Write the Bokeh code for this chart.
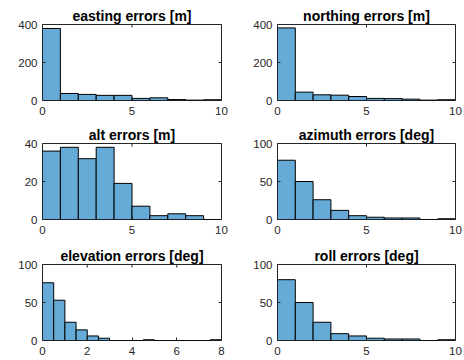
from bokeh.plotting import figure
from bokeh.layouts import gridplot
from bokeh.models import Range1d, FixedTicker, ColumnDataSource
from bokeh.embed import file_html
from bokeh.resources import INLINE
import math

# ---- data (counts) ----
titles = ["easting errors [m]", "northing errors [m]", "alt errors [m]",
          "azimuth errors [deg]", "elevation errors [deg]", "roll errors [deg]"]

easting_counts = [379, 37, 32, 27, 27, 11, 14, 5, 2, 4]
northing_counts = [382, 44, 30, 28, 21, 11, 10, 7, 2, 4]
alt_counts = [36, 38, 32, 38, 19, 7, 2, 3, 2, 0]
azimuth_counts = [78, 50, 26, 12, 5, 3, 2, 2, 0, 1]
elevation_counts = [76, 53, 24, 14, 6, 3, 0, 0, 0, 1, 0, 0, 0, 0, 0, 1]
roll_counts = [80, 50, 24, 9, 6, 3, 2, 2, 0, 1]

bin_width_m = 1.0
bin_width_elev = 0.5

xticks_10 = [0, 5, 10]
xticks_8 = [0, 2, 4, 6, 8]
yticks_400 = [0, 200, 400]
yticks_40 = [0, 20, 40]
yticks_100 = [0, 50, 100]

FACE = "#66AAD7"
AX = "#262626"
FONT = "Liberation Sans"


def make(title, counts, bw, xticks, yticks, width, height, bl, br, bt, bb):
    n = len(counts)
    left = [i * bw for i in range(n)]
    right = [(i + 1) * bw for i in range(n)]
    src = ColumnDataSource(dict(left=left, right=right, top=counts))
    p = figure(width=width, height=height, output_backend="svg", toolbar_location=None,
               x_range=Range1d(xticks[0], xticks[-1]), y_range=Range1d(yticks[0], yticks[-1]),
               min_border_left=bl, min_border_right=br, min_border_top=bt, min_border_bottom=bb,
               background_fill_color="white", border_fill_color="white")
    p.quad(left="left", right="right", bottom=0, top="top", source=src,
           fill_color=FACE, line_color="black", line_width=1)
    # mirrored inside ticks on top and right (MATLAB box style)
    top_src = ColumnDataSource(dict(x=xticks, y=[yticks[-1]] * len(xticks)))
    p.scatter("x", "y", source=top_src, marker="dash", size=6, angle=math.pi / 2,
              line_color=AX, line_width=1)
    right_src = ColumnDataSource(dict(x=[xticks[-1]] * len(yticks), y=yticks))
    p.scatter("x", "y", source=right_src, marker="dash", size=6,
              line_color=AX, line_width=1)

    p.xaxis.ticker = FixedTicker(ticks=xticks)
    p.yaxis.ticker = FixedTicker(ticks=yticks)
    for ax in (p.xaxis[0], p.yaxis[0]):
        ax.axis_line_color = None
        ax.major_tick_in = 3
        ax.major_tick_out = 0
        ax.major_tick_line_color = AX
        ax.minor_tick_line_color = None
        ax.major_label_text_font = FONT
        ax.major_label_text_font_size = "11.5px"
        ax.major_label_text_color = AX
    p.xaxis.major_label_standoff = 6
    p.yaxis.major_label_standoff = 5
    p.xgrid.visible = False
    p.ygrid.visible = False
    p.outline_line_color = AX
    p.outline_line_width = 1
    p.outline_line_alpha = 1
    p.title.text = title
    p.title.align = "center"
    p.title.text_font = FONT
    p.title.text_font_size = "14px"
    p.title.text_font_style = "bold"
    p.title.text_color = "black"
    p.title.standoff = 1
    return p


W = 232
H = 120

p1 = make(titles[0], easting_counts, bin_width_m, xticks_10, yticks_400, W, H, 42, 11, 24, 20)
p2 = make(titles[1], northing_counts, bin_width_m, xticks_10, yticks_400, W, H, 45, 9, 24, 20)
p3 = make(titles[2], alt_counts, bin_width_m, xticks_10, yticks_40, W, H, 42, 11, 23, 21)
p4 = make(titles[3], azimuth_counts, bin_width_m, xticks_10, yticks_100, W, H, 45, 9, 23, 21)
p5 = make(titles[4], elevation_counts, bin_width_elev, xticks_8, yticks_100, W, H, 42, 11, 24, 20)
p6 = make(titles[5], roll_counts, bin_width_m, xticks_10, yticks_100, W, H, 45, 9, 24, 20)

grid = gridplot([[p1, p2], [p3, p4], [p5, p6]], toolbar_location=None)

open("out.html", "w").write(file_html(grid, INLINE))
